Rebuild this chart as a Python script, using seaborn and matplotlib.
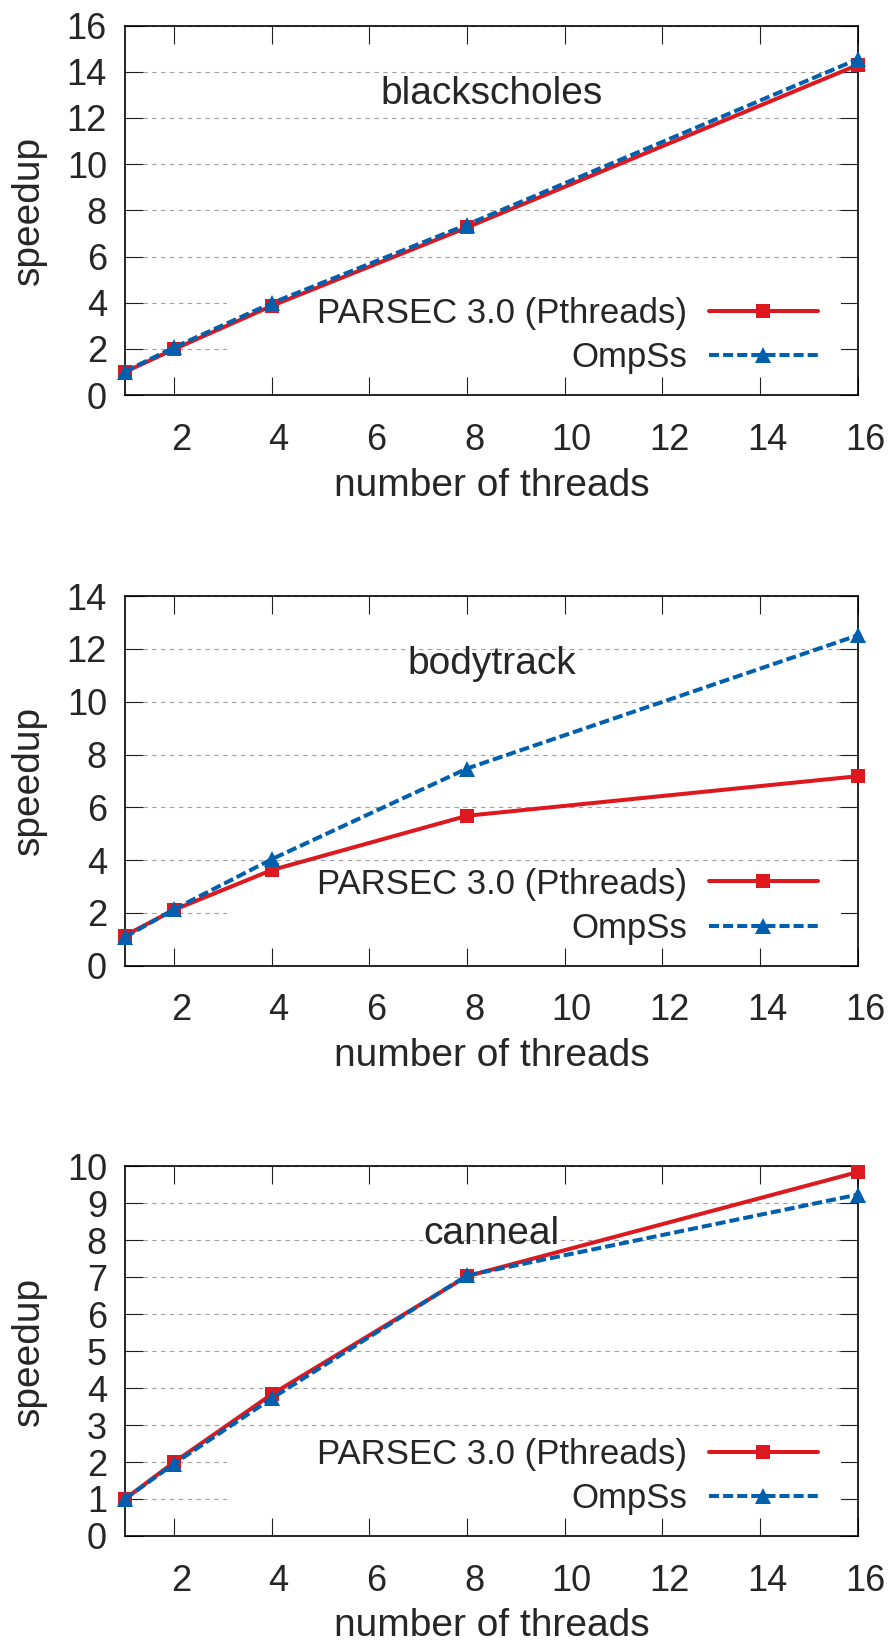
import matplotlib
matplotlib.use("Agg")
import matplotlib.pyplot as plt
import matplotlib.transforms as mtransforms
from matplotlib.patches import Rectangle
import pandas as pd
import seaborn as sns

# Thread counts used in every benchmark run
threads = [1, 2, 4, 8, 16]

# Measured speedups per benchmark
blackscholes_pthreads = [1.00, 1.98, 3.86, 7.26, 14.30]
blackscholes_ompss = [1.02, 2.06, 3.98, 7.38, 14.55]
bodytrack_pthreads = [1.14, 2.11, 3.62, 5.68, 7.18]
bodytrack_ompss = [1.08, 2.13, 4.03, 7.47, 12.52]
canneal_pthreads = [1.00, 1.99, 3.83, 7.03, 9.85]
canneal_ompss = [1.00, 1.95, 3.72, 7.05, 9.24]

benchmarks = ["blackscholes", "bodytrack", "canneal"]
y_max = [16, 14, 10]
y_step = [2, 2, 1]
x_ticks = [2, 4, 6, 8, 10, 12, 14, 16]
series_labels = ["PARSEC 3.0 (Pthreads)", "OmpSs"]

speedups = {
    "blackscholes": (blackscholes_pthreads, blackscholes_ompss),
    "bodytrack": (bodytrack_pthreads, bodytrack_ompss),
    "canneal": (canneal_pthreads, canneal_ompss),
}

sns.set_style("ticks")
plt.rcParams["font.family"] = ["Liberation Sans", "DejaVu Sans"]

RED = "#dd181f"
BLUE = "#0060ad"

fig = plt.figure(figsize=(8.9, 16.42), dpi=100)
bottoms = [0.7594, 0.4119, 0.0646]
tick_shift = mtransforms.ScaledTranslation(0.07, 0, fig.dpi_scale_trans)

for name, ymax, ystep, bottom in zip(benchmarks, y_max, y_step, bottoms):
    ax = fig.add_axes([0.1404, bottom, 0.8236, 0.2250])
    pth, omp = speedups[name]
    df = pd.DataFrame({"threads": threads, "pthreads": pth, "ompss": omp})

    sns.lineplot(data=df, x="threads", y="pthreads", ax=ax, color=RED,
                 linewidth=2.9, marker="s", markersize=10.5, mec=RED, mew=0,
                 label=series_labels[0], clip_on=False, zorder=3)
    sns.lineplot(data=df, x="threads", y="ompss", ax=ax, color=BLUE,
                 linewidth=2.9, linestyle=(0, (2.5, 1.0)), marker="^",
                 markersize=11, mec=BLUE, mew=0,
                 label=series_labels[1], clip_on=False, zorder=4)

    ax.set_xlim(1, 16)
    ax.set_ylim(0, ymax)
    ax.set_xticks(x_ticks)
    ax.set_yticks(range(0, ymax + 1, ystep))

    ax.set_axisbelow(True)
    ax.yaxis.grid(True, color="#a0a0a0", linestyle=(0, (4, 4)), linewidth=0.8)
    ax.xaxis.grid(False)

    for sp in ax.spines.values():
        sp.set_visible(True)
        sp.set_color("black")
        sp.set_linewidth(1.2)

    ax.tick_params(axis="both", direction="in", length=13, width=0.8,
                   color="#202020", top=True, right=True, labelsize=26)
    ax.tick_params(axis="x", pad=20)
    ax.tick_params(axis="y", pad=13)
    for lbl in ax.get_xticklabels():
        lbl.set_transform(lbl.get_transform() + tick_shift)

    ax.set_xlabel("number of threads", fontsize=28, labelpad=7)
    ax.set_ylabel("speedup", fontsize=28, labelpad=14)

    ax.text(0.5, 0.789, name, transform=ax.transAxes, ha="center",
            va="baseline", fontsize=28)

    # keep the grid clear behind the key
    ax.add_patch(Rectangle((0.139, 0.059), 0.977 - 0.139, 0.278 - 0.059,
                           transform=ax.transAxes, facecolor="white",
                           edgecolor="none", zorder=0.8))

    ax.legend(loc="center right", bbox_to_anchor=(0.945, 0.161),
              markerfirst=False, frameon=False, borderpad=0,
              borderaxespad=0, handlelength=3.14, handletextpad=0.62,
              labelspacing=0.32, fontsize=25)

fig.savefig("out.png", dpi=100)
